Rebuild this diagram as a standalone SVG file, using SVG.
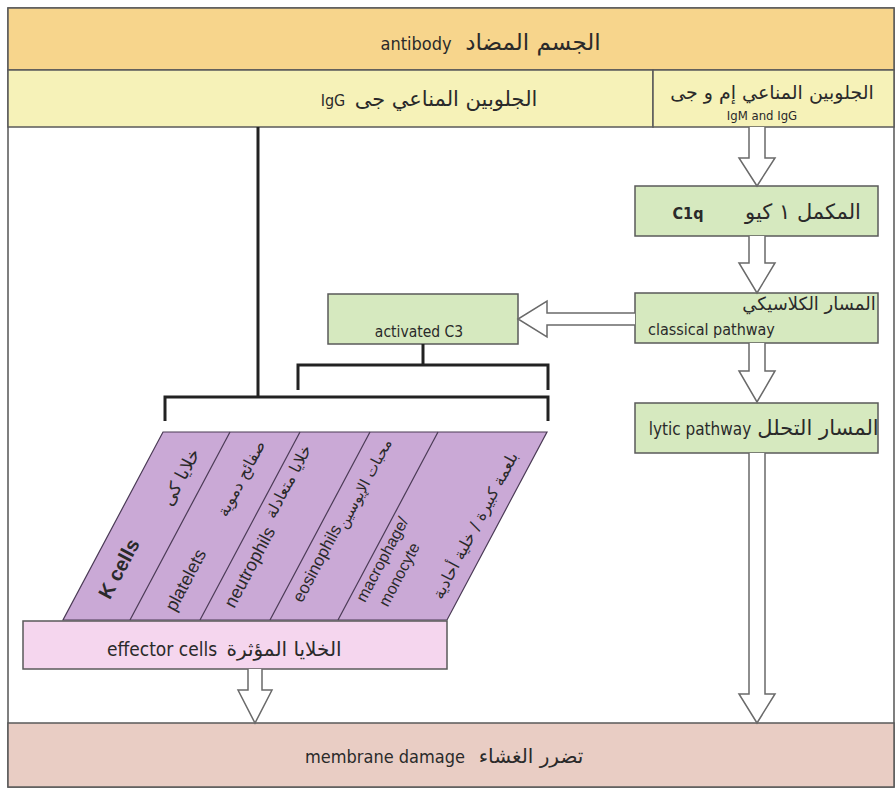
<svg xmlns="http://www.w3.org/2000/svg" width="896" height="791" viewBox="0 0 896 791">
<style>
.box{stroke:#5a5a5a;stroke-width:1.5}
.en{font-family:"DejaVu Sans Condensed","Liberation Sans Narrow","Liberation Sans",sans-serif;fill:#2a2a2a}
.ar{font-family:"DejaVu Sans","Noto Sans",sans-serif;fill:#2a2a2a}
.cell{font-family:"Liberation Sans","DejaVu Sans",sans-serif;fill:#2a2a2a}
.cellar{font-family:"DejaVu Sans",sans-serif;fill:#2a2a2a}
.hollow{fill:#fff;stroke:#6a6a6a;stroke-width:1.5;stroke-linejoin:miter}
.blk{fill:none;stroke:#222;stroke-width:3}
.div{stroke:#4a3a55;stroke-width:1.2}
</style>
<rect x="0" y="0" width="896" height="791" fill="#fff"/>
<rect x="8" y="8" width="886" height="779" fill="#fff" stroke="#555" stroke-width="1.5"/>

<g id="antibody">
<rect class="box" x="8" y="8" width="886" height="62" fill="#f7d58c"/>
<text class="en" x="416" y="50" text-anchor="middle" style="font-size:18px">antibody</text>
<text class="ar" x="533" y="50" text-anchor="middle" style="font-size:23px">الجسم المضاد</text>
</g>

<g id="igg">
<rect class="box" x="8" y="70" width="645" height="57" fill="#f6f2b8"/>
<text class="en" x="333" y="106" text-anchor="middle" style="font-size:16px">IgG</text>
<text class="ar" x="446" y="106" text-anchor="middle" style="font-size:21px">الجلوبين المناعي جى</text>
</g>

<g id="igm-igg">
<rect class="box" x="653" y="70" width="241" height="57" fill="#f6f2b8"/>
<text class="ar" x="772" y="99" text-anchor="middle" style="font-size:19px">الجلوبين المناعي إم و جى</text>
<text class="en" x="762" y="120" text-anchor="middle" style="font-size:13px">IgM and IgG</text>
</g>

<g id="c1q">
<rect class="box" x="635" y="186" width="243" height="50" fill="#d6e9bf"/>
<text class="en" x="688" y="219" text-anchor="middle" style="font-size:16px;font-weight:bold">C1q</text>
<text class="ar" x="803" y="219" text-anchor="middle" style="font-size:21px">المكمل ١ كيو</text>
</g>

<g id="classical">
<rect class="box" x="635" y="293" width="243" height="50" fill="#d6e9bf"/>
<text class="ar" x="809" y="310" text-anchor="middle" style="font-size:18px">المسار الكلاسيكي</text>
<text class="en" x="648" y="335" style="font-size:16px">classical pathway</text>
</g>

<g id="c3">
<rect class="box" x="328" y="294" width="190" height="50" fill="#d6e9bf"/>
<text class="en" x="419" y="337" text-anchor="middle" style="font-size:15.5px">activated C3</text>
</g>

<g id="lytic">
<rect class="box" x="635" y="403" width="243" height="50" fill="#d6e9bf"/>
<text class="en" x="700" y="435" text-anchor="middle" style="font-size:17px">lytic pathway</text>
<text class="ar" x="818" y="435" text-anchor="middle" style="font-size:21px">المسار التحلل</text>
</g>

<g id="cells">
<polygon points="163,432 547,432 447,620 63,620" fill="#caa9d6" stroke="#4a3a55" stroke-width="1.2"/>
<line class="div" x1="230" y1="432" x2="130" y2="620"/>
<line class="div" x1="300" y1="432" x2="200" y2="620"/>
<line class="div" x1="370" y1="432" x2="270" y2="620"/>
<line class="div" x1="438" y1="432" x2="338" y2="620"/>
<text class="cell" transform="translate(125,572) rotate(-62)" text-anchor="middle" style="font-size:20px;font-weight:bold">K cells</text>
<text class="cellar" transform="translate(186,480) rotate(-62)" text-anchor="middle" style="font-size:18px">خلايا كى</text>
<text class="cell" transform="translate(191,583) rotate(-62)" text-anchor="middle" style="font-size:18px">platelets</text>
<text class="cellar" transform="translate(246,481) rotate(-62)" text-anchor="middle" style="font-size:16px">صفائح دموية</text>
<text class="cell" transform="translate(255,570) rotate(-62)" text-anchor="middle" style="font-size:18px">neutrophils</text>
<text class="cellar" transform="translate(293,484) rotate(-62)" text-anchor="middle" style="font-size:16px">خلايا متعادلة</text>
<text class="cell" transform="translate(322,566) rotate(-62)" text-anchor="middle" style="font-size:17px">eosinophils</text>
<text class="cellar" transform="translate(369,486) rotate(-62)" text-anchor="middle" style="font-size:15px">محبات الإيوسين</text>
<text class="cell" transform="translate(387,562) rotate(-62)" text-anchor="middle" style="font-size:16px">macrophage/</text>
<text class="cell" transform="translate(404,577) rotate(-62)" text-anchor="middle" style="font-size:16px">monocyte</text>
<text class="cellar" transform="translate(480,528) rotate(-62)" text-anchor="middle" style="font-size:16px">بلعمة كبيرة / خلية أحادية</text>
</g>

<g id="effector">
<rect class="box" x="23" y="621" width="424" height="48" fill="#f5d6ee"/>
<text class="en" x="162" y="656" text-anchor="middle" style="font-size:19px">effector cells</text>
<text class="ar" x="284" y="656" text-anchor="middle" style="font-size:20px">الخلايا المؤثرة</text>
</g>

<g id="membrane">
<rect class="box" x="8" y="723" width="886" height="64" fill="#e9cdc4"/>
<text class="en" x="385" y="763" text-anchor="middle" style="font-size:18px">membrane damage</text>
<text class="ar" x="531" y="763" text-anchor="middle" style="font-size:20px">تضرر الغشاء</text>
</g>

<g id="connectors">
<path class="hollow" d="M749,127 L749,158 L739,158 L757,186 L775,158 L765,158 L765,127"/>
<path class="hollow" d="M749,236 L749,263 L739,263 L757,293 L775,263 L765,263 L765,236"/>
<path class="hollow" d="M749,343 L749,371 L739,371 L757,402 L775,371 L765,371 L765,343"/>
<path class="hollow" d="M749,453 L749,694 L739,694 L757,723 L775,694 L765,694 L765,453"/>
<path class="hollow" d="M248,669 L248,690 L238,690 L255,723 L272,690 L262,690 L262,669"/>
<path class="hollow" d="M635,313 L547,313 L547,301 L518,319 L547,337 L547,325 L635,325"/>
<path class="blk" d="M258,127 L258,397"/>
<path class="blk" d="M165,421 L165,397 L548,397 L548,421"/>
<path class="blk" d="M423,344 L423,365"/>
<path class="blk" d="M298,390 L298,365 L548,365 L548,390"/>
</g>
</svg>
